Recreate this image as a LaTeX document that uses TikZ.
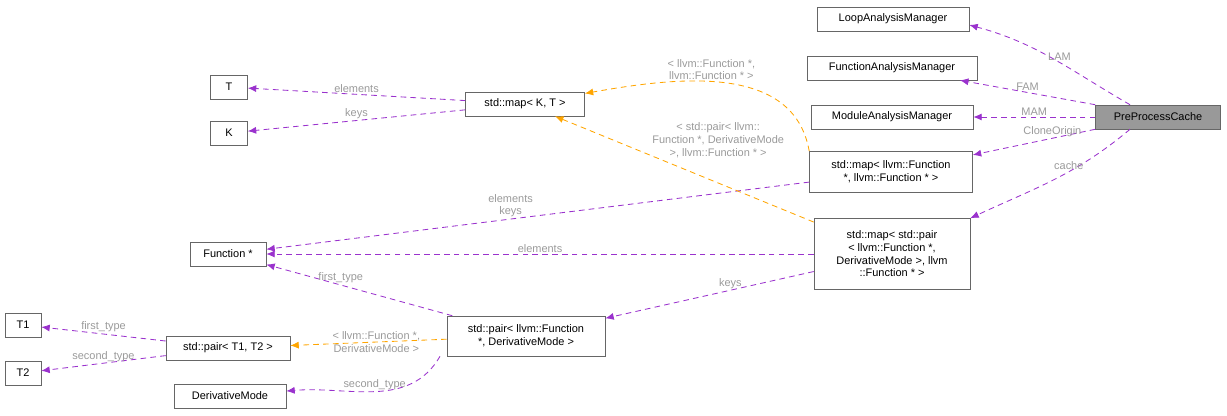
\documentclass[tikz,border=0pt]{standalone}
\usepackage{fontspec}
\setmainfont{Liberation Sans}
\usetikzlibrary{arrows.meta}
\definecolor{edgepurple}{HTML}{9A32CD}
\definecolor{edgeorange}{HTML}{FFA500}
\definecolor{labgray}{HTML}{9A9A9A}
\definecolor{boxgray}{HTML}{666666}
\begin{document}
\begin{tikzpicture}[x=0.025cm, y=-0.025cm,
    every node/.style={font=\fontsize{7.8}{9}\selectfont},
    cls/.style={draw=boxgray, fill=white, align=center, inner sep=2pt, minimum height=24*0.025cm},
    mem/.style={edgepurple, semithick, dash pattern=on 4pt off 3pt, -{Latex[length=6pt,width=5pt]}},
    tpl/.style={edgeorange, semithick, dash pattern=on 4pt off 3pt, -{Latex[length=6pt,width=5pt]}},
    lab/.style={text=labgray, align=center, inner sep=1pt}]
\useasboundingbox (0,0) rectangle (1227,415);
% classes
\node[cls, fill=gray!80, minimum width=125*0.025cm] (ppc) at (1158,117) {PreProcessCache};
\node[cls, minimum width=152*0.025cm] (lam) at (893,19) {LoopAnalysisManager};
\node[cls, minimum width=170*0.025cm] (fam) at (892,68) {FunctionAnalysisManager};
\node[cls, minimum width=162*0.025cm] (mam) at (892,117) {ModuleAnalysisManager};
\node[cls, minimum width=163*0.025cm, minimum height=41*0.025cm] (mapff) at (891,172) {std::map\textless{} llvm::Function\\*, llvm::Function * \textgreater};
\node[cls, minimum width=156*0.025cm, minimum height=71*0.025cm] (mappair) at (892,254) {std::map\textless{} std::pair\\\textless{} llvm::Function *,\\ DerivativeMode \textgreater, llvm\\::Function * \textgreater};
\node[cls, minimum width=119*0.025cm] (mapkt) at (525,104) {std::map\textless{} K, T \textgreater};
\node[cls, minimum width=37*0.025cm] (t) at (229,87) {T};
\node[cls, minimum width=37*0.025cm] (k) at (229,133) {K};
\node[cls, minimum width=76*0.025cm] (fn) at (228,254) {Function *};
\node[cls, minimum width=158*0.025cm, minimum height=40*0.025cm] (pair) at (526,336) {std::pair\textless{} llvm::Function\\*, DerivativeMode \textgreater};
\node[cls, minimum width=124*0.025cm] (pairtt) at (228,348) {std::pair\textless{} T1, T2 \textgreater};
\node[cls, minimum width=36*0.025cm] (t1) at (23,325) {T1};
\node[cls, minimum width=36*0.025cm] (t2) at (23,373) {T2};
\node[cls, minimum width=112*0.025cm] (dm) at (230,396) {DerivativeMode};
% members of PreProcessCache
\draw[mem] ([xshift=-28*0.025cm]ppc.north) to[out=150, in=-15] node[lab, pos=0.45, above] {LAM} ([yshift=-6*0.025cm]lam.east);
\draw[mem] (ppc.north west) -- node[lab, above] {FAM} (fam);
\draw[mem] (ppc) -- node[lab, above] {MAM} (mam);
\draw[mem] (ppc.south west) -- node[lab, above, pos=0.35] {CloneOrigin} (mapff);
\draw[mem] ([xshift=-28*0.025cm]ppc.south) to[out=-140, in=25] node[lab, above, pos=0.4] {cache} (mappair.north east);
% template
\draw[mem] (mapkt) -- node[lab, above] {elements} (t);
\draw[mem] (mapkt) -- node[lab, above] {keys} (k);
\draw[mem] (mapff) -- node[lab, above, pos=0.55] {elements\\keys} (fn);
\draw[mem] (mappair) -- node[lab, above] {elements} (fn);
\draw[mem] (mappair) -- node[lab, above, pos=0.4] {keys} (pair);
\draw[tpl] (mapff.north west) to[out=100, in=10] node[lab, pos=0.55, above] {\textless{} llvm::Function *,\\llvm::Function * \textgreater} (mapkt);
\draw[tpl] (mappair) -- node[lab, pos=0.62, above right=-2pt] {\textless{} std::pair\textless{} llvm::\\Function *, DerivativeMode\\\textgreater, llvm::Function * \textgreater} (mapkt);
\draw[mem] (pair) -- node[lab, above, pos=0.6] {first\_type} (fn);
\draw[tpl] (pair) -- node[lab, pos=0.45] {\textless{} llvm::Function *,\\DerivativeMode \textgreater} (pairtt);
\draw[mem] ([xshift=-86*0.025cm]pair.south) to[out=-120, in=5] node[lab, above, pos=0.5] {second\_type} (dm);
\draw[mem] (pairtt) -- node[lab, above] {first\_type} (t1);
\draw[mem] (pairtt) -- node[lab, above] {second\_type} (t2);
\end{tikzpicture}
\end{document}
